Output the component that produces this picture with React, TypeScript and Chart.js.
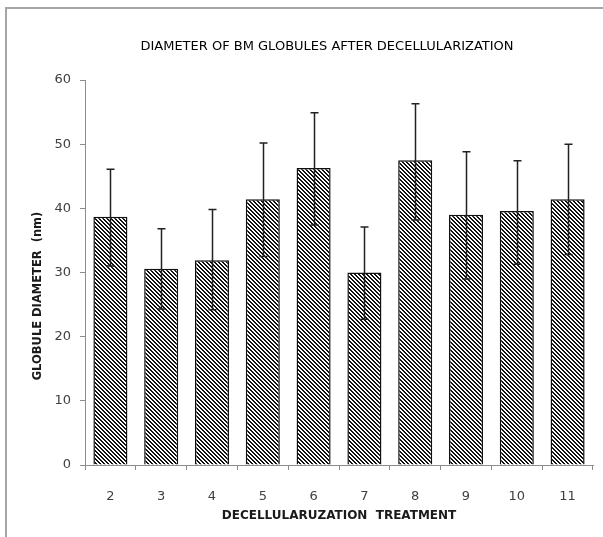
import React, { useEffect, useRef } from "react";
import { Chart, registerables } from "chart.js";

Chart.register(...registerables);

const chartTitle = "DIAMETER OF BM GLOBULES AFTER DECELLULARIZATION";
const xAxisTitle = "DECELLULARUZATION  TREATMENT";
const yAxisTitle = "GLOBULE DIAMETER  (nm)";
const categories = ["2", "3", "4", "5", "6", "7", "8", "9", "10", "11"];
const meanDiameter = [38.7, 30.6, 31.9, 41.4, 46.3, 30.0, 47.5, 39.0, 39.6, 41.4];
const errorUpper = [46.1, 36.8, 39.8, 50.2, 54.9, 37.1, 56.3, 48.8, 47.4, 50.0];
const errorLower = [31.0, 24.3, 24.2, 32.5, 37.4, 22.7, 38.2, 29.0, 31.3, 32.8];
const yMin = 0;
const yMax = 60;
const yStep = 10;

function makeHatch(ctx: CanvasRenderingContext2D): CanvasPattern | string {
  const c = document.createElement("canvas");
  c.width = 4;
  c.height = 4;
  const p = c.getContext("2d");
  if (!p) return "#777";
  p.fillStyle = "#ffffff";
  p.fillRect(0, 0, 4, 4);
  p.fillStyle = "#111111";
  for (let y = 0; y < 4; y++) {
    for (let x = 0; x < 4; x++) {
      if ((((x - y) % 4) + 4) % 4 < 2) p.fillRect(x, y, 1, 1);
    }
  }
  return ctx.createPattern(c, "repeat") || "#777";
}

const errorBarPlugin = {
  id: "errorBars",
  afterDatasetsDraw(chart: any) {
    const { ctx, scales } = chart;
    const x = scales.x;
    const y = scales.y;
    ctx.save();
    ctx.strokeStyle = "#222";
    ctx.lineWidth = 1.5;
    const cap = 4;
    categories.forEach((_, i) => {
      const cx = Math.round(x.getPixelForValue(i)) + 0.5;
      const yt = y.getPixelForValue(errorUpper[i]);
      const yb = y.getPixelForValue(errorLower[i]);
      ctx.beginPath();
      ctx.moveTo(cx, yt);
      ctx.lineTo(cx, yb);
      ctx.moveTo(cx - cap, yt);
      ctx.lineTo(cx + cap, yt);
      ctx.moveTo(cx - cap, yb);
      ctx.lineTo(cx + cap, yb);
      ctx.stroke();
    });
    ctx.restore();
  },
};

const titlePlugin = {
  id: "customTitles",
  afterDraw(chart: any) {
    const { ctx } = chart;
    ctx.save();
    ctx.font = "13px 'DejaVu Sans'";
    ctx.fillStyle = "#000";
    ctx.textAlign = "center";
    ctx.textBaseline = "middle";
    ctx.fillText(chartTitle, 327, 47);
    ctx.translate(38, 296);
    ctx.rotate(-Math.PI / 2);
    ctx.font = "bold 11.5px 'DejaVu Sans'";
    ctx.fillStyle = "#1a1a1a";
    ctx.fillText(yAxisTitle, 0, 0);
    ctx.restore();
  },
};

export default function App() {
  const canvasRef = useRef<HTMLCanvasElement | null>(null);

  useEffect(() => {
    const canvas = canvasRef.current;
    if (!canvas) return;
    const ctx = canvas.getContext("2d");
    if (!ctx) return;
    const hatch = makeHatch(ctx);
    const chart = new Chart(ctx, {
      type: "bar",
      data: {
        labels: categories,
        datasets: [
          {
            data: meanDiameter,
            backgroundColor: hatch as any,
            borderColor: "#111",
            borderWidth: 1.5,
            barPercentage: 0.67,
            categoryPercentage: 1,
          },
        ],
      },
      options: {
        animation: false,
        responsive: false,
        devicePixelRatio: 1,
        layout: { padding: { top: 80, left: 0, right: 10, bottom: 0 } },
        plugins: {
          legend: { display: false },
          tooltip: { enabled: false },
          title: { display: false },
        },
        scales: {
          x: {
            grid: {
              display: true,
              drawOnChartArea: false,
              drawTicks: true,
              tickLength: 5,
              color: "#8c8c8c",
              offset: true,
            },
            border: { display: true, color: "#8c8c8c", width: 1 },
            ticks: {
              color: "#404040",
              padding: 19,
              font: { family: "'DejaVu Sans'", size: 13 },
            },
            title: {
              display: true,
              text: xAxisTitle,
              color: "#1a1a1a",
              font: { family: "'DejaVu Sans'", size: 12, weight: "bold" },
              padding: { top: 0, bottom: 14 },
            },
            afterFit(scale: any) {
              scale.height = 72;
            },
          },
          y: {
            min: yMin,
            max: yMax,
            grid: {
              display: true,
              drawOnChartArea: false,
              drawTicks: true,
              tickLength: 5,
              color: "#8c8c8c",
            },
            border: { display: true, color: "#8c8c8c", width: 1 },
            ticks: {
              stepSize: yStep,
              color: "#404040",
              padding: 9,
              font: { family: "'DejaVu Sans'", size: 13 },
            },
            title: { display: false },
            afterFit(scale: any) {
              scale.width = 85;
            },
          },
        },
      },
      plugins: [errorBarPlugin, titlePlugin],
    });
    return () => chart.destroy();
  }, []);

  return (
    <div style={{ position: "fixed", left: 0, top: 0, width: 603, height: 537, background: "#fff" }}>
      <div style={{ position: "absolute", left: 6, top: 7, width: 597, height: 2, background: "#a6a6a6" }} />
      <div style={{ position: "absolute", left: 5, top: 7, width: 2, height: 530, background: "#a6a6a6" }} />
      <canvas ref={canvasRef} width={603} height={537} style={{ position: "absolute", left: 0, top: 0 }} />
    </div>
  );
}
